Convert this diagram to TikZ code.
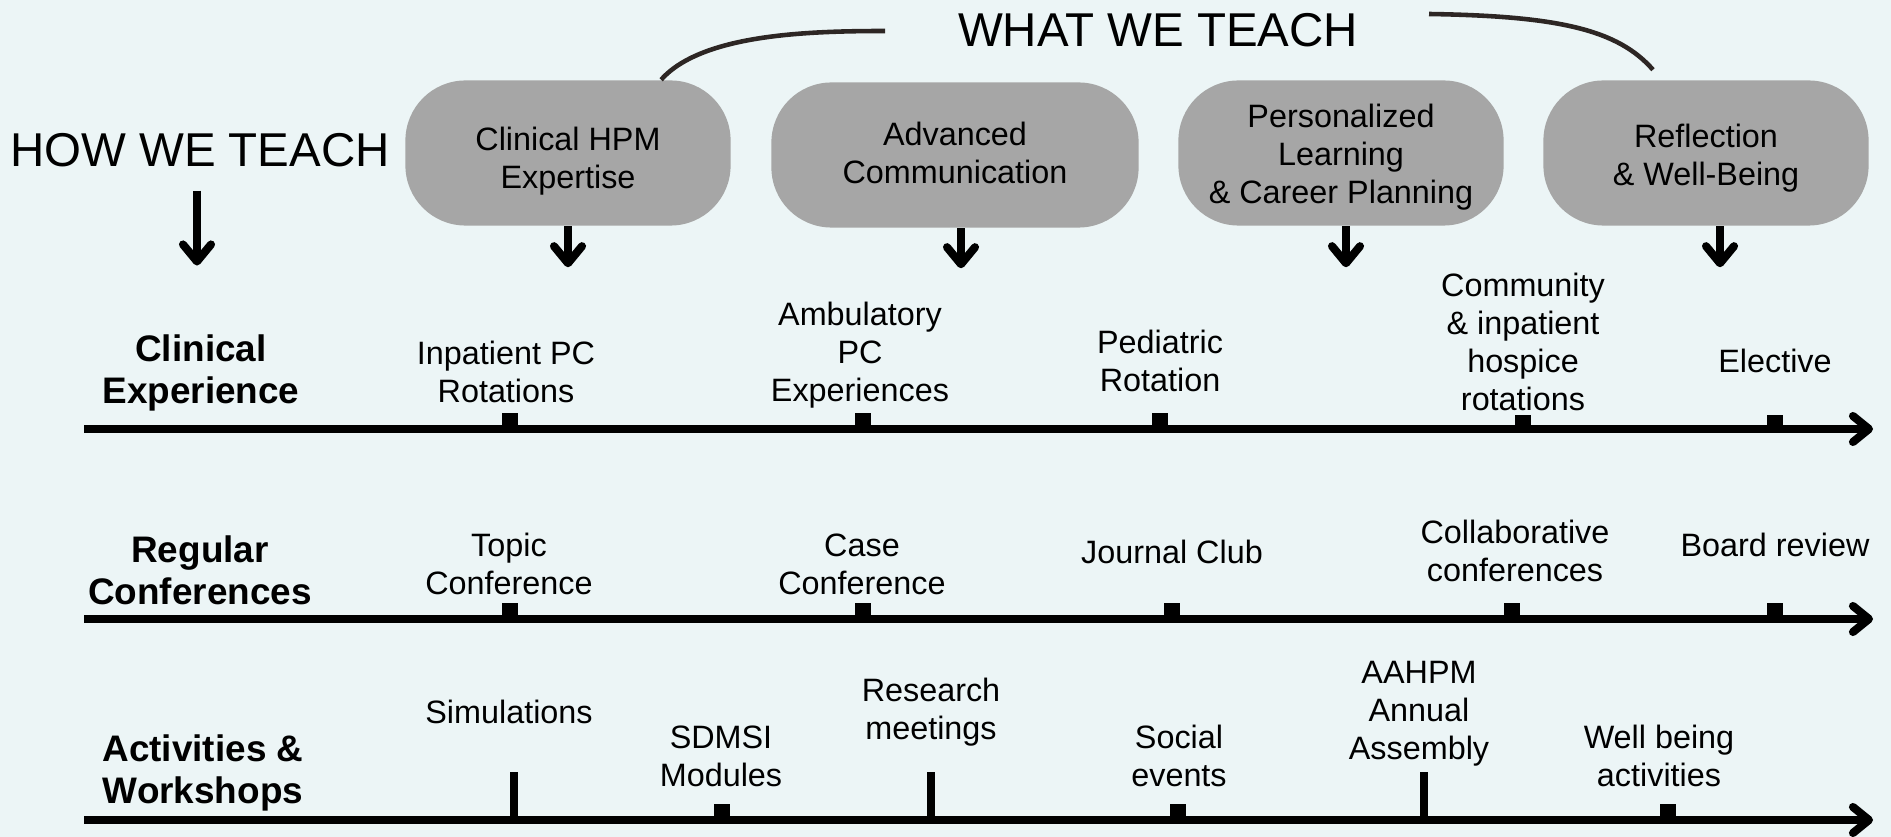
\documentclass[tikz,border=0pt]{standalone}
\usepackage{fontspec}
\setmainfont{Liberation Sans}
\usepackage{xcolor}
\usepackage{tikz}
\usetikzlibrary{positioning}
\usetikzlibrary{arrows.meta}
\definecolor{bgblue}{HTML}{ECF5F6}
\definecolor{boxgray}{HTML}{A6A6A6}
\definecolor{bracedark}{HTML}{2D2624}
\tikzset{
    x=0.01cm, y=-0.01cm,
    title/.style={inner sep=0, font=\fontsize{13.5}{16}\selectfont},
    gray box/.style={shape=rectangle, rounded corners=0.6cm, fill=boxgray, minimum width=3.25cm, minimum height=1.45cm, inner sep=0},
    box text/.style={align=center, inner sep=0, font=\fontsize{9.2}{10.8}\selectfont},
    track/.style={align=center, inner sep=0, font=\bfseries\fontsize{10.5}{12}\selectfont},
    event/.style={align=center, inner sep=0, font=\fontsize{9.2}{10.8}\selectfont},
    down arrow/.style={line width=2.3pt, -{Straight Barb[length=0.17cm, width=0.28cm, round]}},
    timeline/.style={line width=2.3pt, -{Straight Barb[length=0.16cm, width=0.26cm, round]}},
    brace/.style={draw=bracedark, line width=1.3pt},
    tick/.style={shape=rectangle, fill=black, inner sep=0, minimum width=0.16cm, minimum height=0.16cm},
    tall tick/.style={shape=rectangle, fill=black, inner sep=0, minimum width=0.08cm, minimum height=0.48cm}
}
\begin{document}
\begin{tikzpicture}
    \fill[bgblue] (0,0) rectangle (1891,837);
    \useasboundingbox (0,0) rectangle (1891,837);
    % headings
    \node(what)[title] at (1158,30) {WHAT WE TEACH};
    \node(how)[title] at (200,150) {HOW WE TEACH};
    % what we teach
    \node(clin)[gray box] at (568,153) {};
    \node(comm)[gray box, minimum width=3.67cm] at (955,155) {};
    \node(pers)[gray box] at (1341,153) {};
    \node(refl)[gray box] at (1706,153) {};
    \node(clin text)[box text] at ([yshift=-0.08cm]clin.center) {Clinical HPM\\Expertise};
    \node(comm text)[box text] at ([yshift=0.02cm]comm.center) {Advanced\\Communication};
    \node(pers text)[box text] at ([yshift=-0.04cm]pers.center) {Personalized\\Learning\\\& Career Planning};
    \node(refl text)[box text] at ([yshift=-0.05cm]refl.center) {Reflection\\\& Well-Being};
    \coordinate(brace l) at (885,31);
    \coordinate(brace r) at (1429,14);
    \draw[brace] ([xshift=0.93cm]clin.north) .. controls +(40,-45) and +(-80,0) .. (brace l);
    \draw[brace] (brace r) .. controls +(130,2) and +(-35,-40) .. ([xshift=-0.53cm,yshift=0.1cm]refl.north);
    \draw[down arrow] (how.south) ++(-3,23) -- ++(0,75);
    \draw[down arrow] (clin.south) -- ++(0,41);
    \draw[down arrow] ([xshift=0.06cm]comm.south) -- ++(0,40);
    \draw[down arrow] ([xshift=0.05cm]pers.south) -- ++(0,41);
    \draw[down arrow] ([xshift=0.14cm]refl.south) -- ++(0,41);
    % clinical experience
    \coordinate(t1 start) at (84,429);
    \coordinate(t1 end) at (1873,429);
    \draw[timeline] (t1 start) -- (t1 end);
    \node(t1a)[tick] at (510,421) {};
    \node(t1b)[tick] at (863,421) {};
    \node(t1c)[tick] at (1160,421) {};
    \node(t1d)[tick] at (1523,423) {};
    \node(t1e)[tick] at (1775,423) {};
    \node(clinical)[track] at (201,373) {Clinical\\Experience};
    \node(inpatient)[event] at (506,372) {Inpatient PC\\Rotations};
    \node(ambulatory)[event] at (860,355) {Ambulatory\\PC\\Experiences};
    \node(pediatric)[event] at (1160,361) {Pediatric\\Rotation};
    \node(community)[event] at (1523,342) {Community\\\& inpatient\\hospice\\rotations};
    \node(elective)[event] at (1775,361) {Elective};
    % regular conferences
    \coordinate(t2 start) at (84,619);
    \coordinate(t2 end) at (1873,619);
    \draw[timeline] (t2 start) -- (t2 end);
    \node(t2a)[tick] at (510,611) {};
    \node(t2b)[tick] at (863,611) {};
    \node(t2c)[tick] at (1172,611) {};
    \node(t2d)[tick] at (1512,611) {};
    \node(t2e)[tick] at (1775,611) {};
    \node(regular)[track] at (200,570) {Regular\\Conferences};
    \node(topic)[event] at (509,564) {Topic\\Conference};
    \node(case)[event] at (862,564) {Case\\Conference};
    \node(journal)[event] at (1172,552) {Journal Club};
    \node(collab)[event] at (1515,551) {Collaborative\\conferences};
    \node(board)[event] at (1775,545) {Board review};
    % activities and workshops
    \coordinate(t3 start) at (84,820);
    \coordinate(t3 end) at (1873,820);
    \draw[timeline] (t3 start) -- (t3 end);
    \node(t3a)[tall tick] at (514,796) {};
    \node(t3b)[tick] at (722,812) {};
    \node(t3c)[tall tick] at (931,796) {};
    \node(t3d)[tick] at (1178,812) {};
    \node(t3e)[tall tick] at (1424,796) {};
    \node(t3f)[tick] at (1668,812) {};
    \node(activities)[track] at (203,773) {Activities \&\\Workshops};
    \node(simulations)[event] at (509,712) {Simulations};
    \node(sdmsi)[event] at (721,756) {SDMSI\\Modules};
    \node(research)[event] at (931,712) {Research\\meetings};
    \node(social)[event] at (1179,756) {Social\\events};
    \node(aahpm)[event] at (1419,714) {AAHPM\\Annual\\Assembly};
    \node(wellbeing)[event] at (1659,756) {Well being\\activities};
\end{tikzpicture}
\end{document}
